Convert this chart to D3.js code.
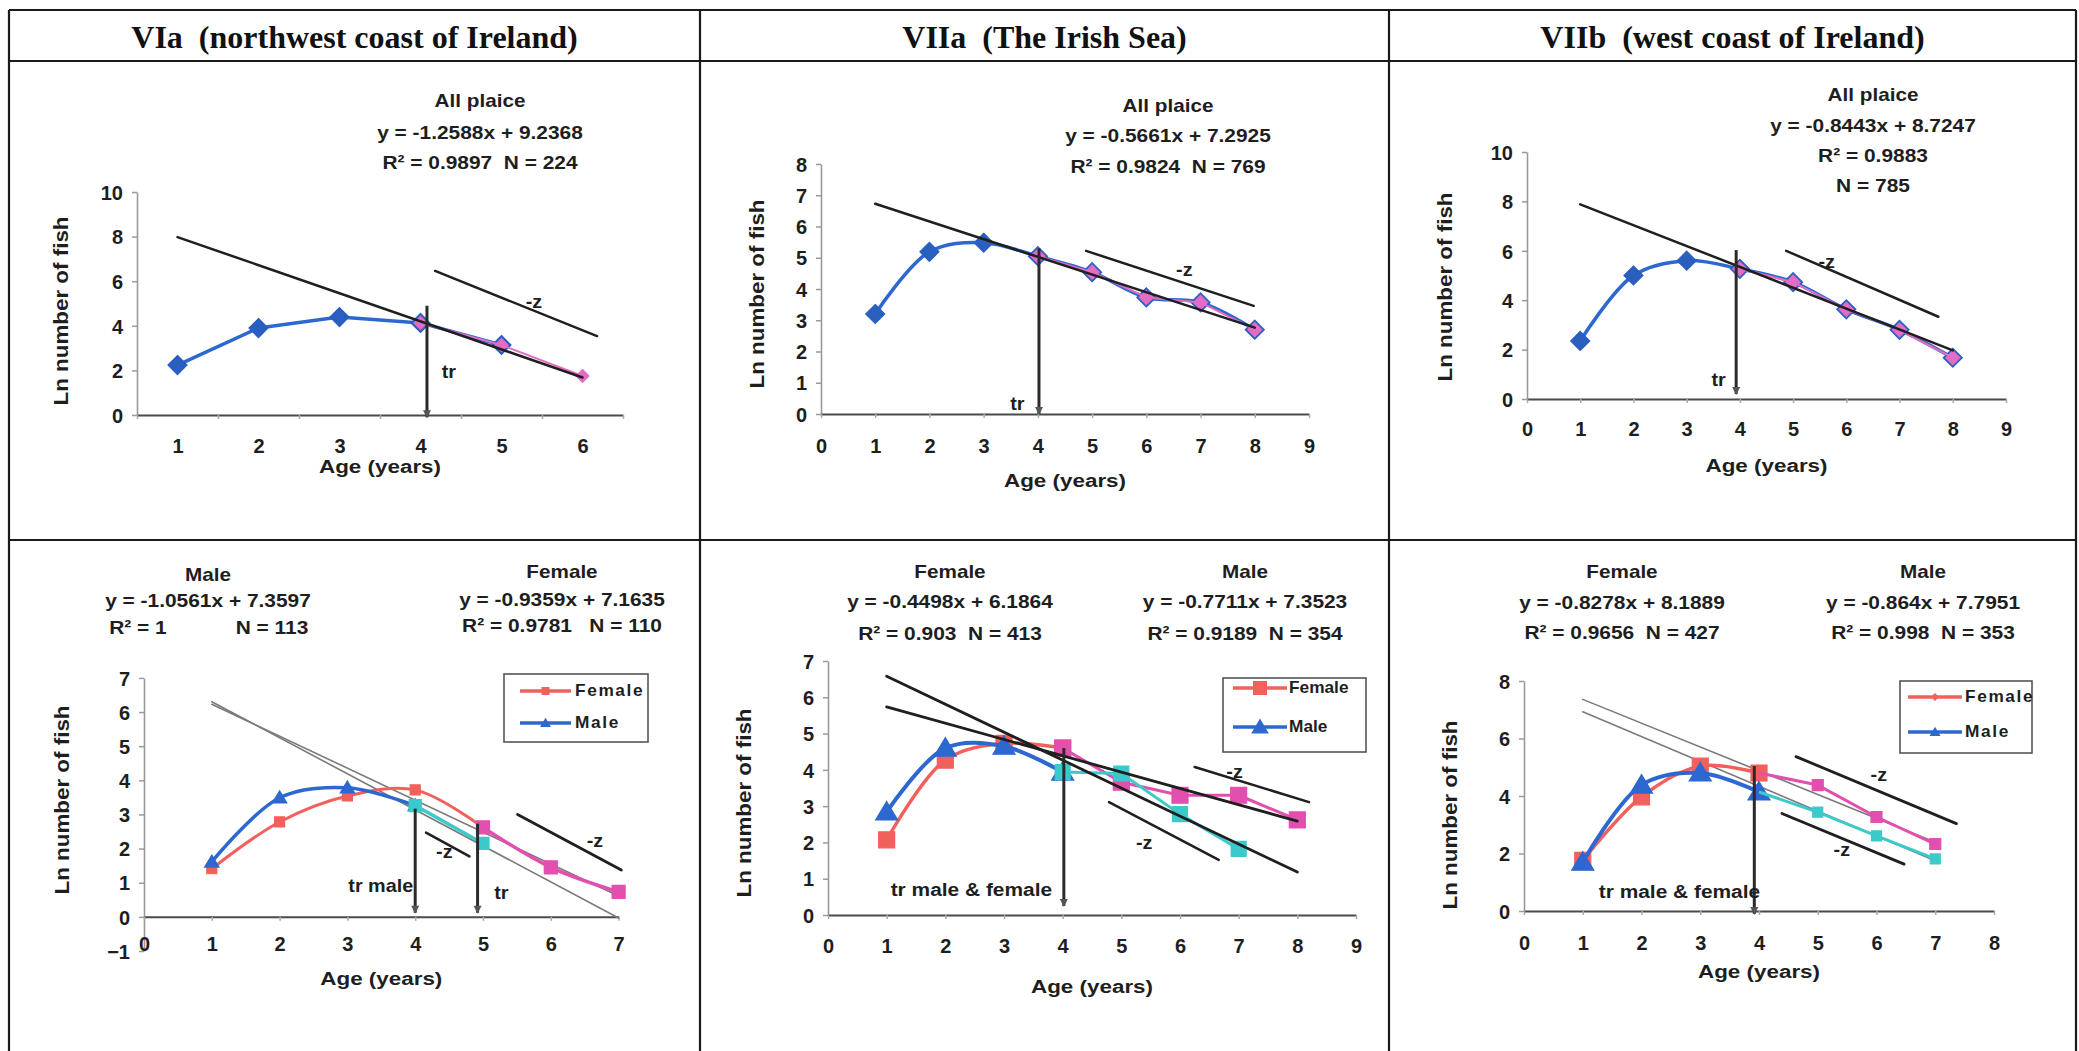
<!DOCTYPE html>
<html><head><meta charset="utf-8">
<script src="https://cdn.jsdelivr.net/npm/d3@7"></script>
<style>
body{margin:0;background:#fff}
svg{display:block}
text{font-family:"Liberation Sans",Arial,sans-serif;font-weight:bold;fill:#1e1e1e;white-space:pre}
</style>
</head><body><svg id="c" width="2079" height="1051"></svg>
<script>
// ---------------- DATA ----------------
const panelTitles = ["VIa  (northwest coast of Ireland)", "VIIa  (The Irish Sea)", "VIIb  (west coast of Ireland)"];
const yAxisTitle = "Ln number of fish";
const xAxisTitle = "Age (years)";
const legendNames = ["Female", "Male"];

// Panel 1 : VIa all plaice
const p1XTicks = [1, 2, 3, 4, 5, 6];
const p1YTicks = [0, 2, 4, 6, 8, 10];
const p1AllAges = [1, 2, 3, 4, 5];
const p1AllValues = [2.24, 3.9, 4.39, 4.13, 3.14];
const p1DescAges = [4, 5, 6];
const p1DescValues = [4.13, 3.14, 1.75];
const p1Fit = [-1.2588, 9.2368];
const p1FitAges = [1, 6];
const p1Z = [[4.18, 6.46], [6.18, 3.54]];
const p1Text = ["All plaice", "y = -1.2588x + 9.2368", "R² = 0.9897  N = 224"];

// Panel 2 : VIIa all plaice
const p2XTicks = [0, 1, 2, 3, 4, 5, 6, 7, 8, 9];
const p2YTicks = [0, 1, 2, 3, 4, 5, 6, 7, 8];
const p2AllAges = [1, 2, 3, 4, 5, 6, 7, 8];
const p2AllValues = [3.2, 5.19, 5.48, 5.05, 4.54, 3.73, 3.57, 2.7];
const p2DescAges = [4, 5, 6, 7, 8];
const p2DescValues = [5.05, 4.54, 3.73, 3.57, 2.7];
const p2Fit = [-0.5661, 7.2925];
const p2FitAges = [1, 8];
const p2Z = [[4.89, 5.22], [7.98, 3.46]];
const p2Text = ["All plaice", "y = -0.5661x + 7.2925", "R² = 0.9824  N = 769"];

// Panel 3 : VIIb all plaice
const p3XTicks = [0, 1, 2, 3, 4, 5, 6, 7, 8, 9];
const p3YTicks = [0, 2, 4, 6, 8, 10];
const p3AllAges = [1, 2, 3, 4, 5, 6, 7, 8];
const p3AllValues = [2.35, 5.0, 5.6, 5.27, 4.73, 3.63, 2.8, 1.67];
const p3DescAges = [4, 5, 6, 7, 8];
const p3DescValues = [5.27, 4.73, 3.63, 2.8, 1.67];
const p3Fit = [-0.8443, 8.7247];
const p3FitAges = [1, 8];
const p3Z = [[4.87, 6.0], [7.73, 3.33]];
const p3Text = ["All plaice", "y = -0.8443x + 8.7247", "R² = 0.9883", "N = 785"];

// Panel 4 : VIa by sex
const p4XTicks = [0, 1, 2, 3, 4, 5, 6, 7];
const p4YTicks = [-1, 0, 1, 2, 3, 4, 5, 6, 7];
const p4FemAges = [1, 2, 3, 4, 5];
const p4FemValues = [1.41, 2.78, 3.54, 3.72, 2.62];
const p4FemDescAges = [5, 6, 7];
const p4FemDescValues = [2.62, 1.45, 0.73];
const p4MaleAges = [1, 2, 3, 4];
const p4MaleValues = [1.61, 3.49, 3.78, 3.26];
const p4MaleDescAges = [4, 5];
const p4MaleDescValues = [3.26, 2.15];
const p4FitMale = [-1.0561, 7.3597];
const p4FitFemale = [-0.9359, 7.1635];
const p4FitAges = [1, 7];
const p4ZShort = [[4.16, 2.47], [4.8, 1.77]];
const p4ZLong = [[5.51, 3.0], [7.04, 1.37]];
const p4TextMale = ["Male", "y = -1.0561x + 7.3597", "R² = 1", "N = 113"];
const p4TextFemale = ["Female", "y = -0.9359x + 7.1635", "R² = 0.9781   N = 110"];

// Panel 5 : VIIa by sex
const p5XTicks = [0, 1, 2, 3, 4, 5, 6, 7, 8, 9];
const p5YTicks = [0, 1, 2, 3, 4, 5, 6, 7];
const p5FemAges = [1, 2, 3, 4];
const p5FemValues = [2.07, 4.27, 4.73, 4.6];
const p5FemDescAges = [4, 5, 6, 7, 8];
const p5FemDescValues = [4.6, 3.66, 3.3, 3.3, 2.62];
const p5MaleAges = [1, 2, 3, 4];
const p5MaleValues = [2.84, 4.6, 4.65, 3.94];
const p5MaleDescAges = [4, 5, 6, 7];
const p5MaleDescValues = [3.94, 3.9, 2.78, 1.82];
const p5FitFemale = [-0.4498, 6.1864];
const p5FitMale = [-0.7711, 7.3523];
const p5FitAges = [1, 8];
const p5ZUpper = [[6.25, 4.08], [8.2, 3.11]];
const p5ZLower = [[4.79, 3.11], [6.66, 1.52]];
const p5TextFemale = ["Female", "y = -0.4498x + 6.1864", "R² = 0.903  N = 413"];
const p5TextMale = ["Male", "y = -0.7711x + 7.3523", "R² = 0.9189  N = 354"];

// Panel 6 : VIIb by sex
const p6XTicks = [0, 1, 2, 3, 4, 5, 6, 7, 8];
const p6YTicks = [0, 2, 4, 6, 8];
const p6FemAges = [1, 2, 3, 4];
const p6FemValues = [1.76, 3.97, 5.04, 4.8];
const p6FemDescAges = [4, 5, 6, 7];
const p6FemDescValues = [4.8, 4.38, 3.27, 2.33];
const p6MaleAges = [1, 2, 3, 4];
const p6MaleValues = [1.7, 4.38, 4.8, 4.14];
const p6MaleDescAges = [4, 5, 6, 7];
const p6MaleDescValues = [4.14, 3.44, 2.61, 1.81];
const p6FitFemale = [-0.8278, 8.1889];
const p6FitMale = [-0.864, 7.7951];
const p6FitAges = [1, 7];
const p6ZUpper = [[4.63, 5.37], [7.36, 3.04]];
const p6ZLower = [[4.39, 3.39], [6.47, 1.63]];
const p6TextFemale = ["Female", "y = -0.8278x + 8.1889", "R² = 0.9656  N = 427"];
const p6TextMale = ["Male", "y = -0.864x + 7.7951", "R² = 0.998  N = 353"];

// ---------------- STYLE ----------------
const C = {blue:"#2c68cf", blueMk:"#2a5fc0", red:"#f2605c", pink:"#e24faf", pinkTop:"#e46cc4", cyan:"#3cc9c9", black:"#1f1f1f", gray:"#7a7a7a"};
const TICK_FS = 20;

// ---------------- DRAW ----------------
const W = 2079, H = 1051;
const svg = d3.select("#c");
svg.append("rect").attr("width", W).attr("height", H).attr("fill", "#fff");

function T(g, x, y, str, size, sx = 1, anchor = "middle", rot = 0) {
  return g.append("text").attr("text-anchor", anchor).attr("dominant-baseline", "central")
    .attr("transform", `translate(${x},${y}) rotate(${rot}) scale(${sx},1)`)
    .style("font-size", size + "px").text(str);
}

// table grid
const colX = [9, 700, 1389, 2076];
const rowY = [10, 61, 540];
const grid = svg.append("g").attr("stroke", "#1a1a1a").attr("stroke-width", 2.2);
colX.forEach(x => grid.append("line").attr("x1", x).attr("x2", x).attr("y1", rowY[0]).attr("y2", H));
rowY.forEach(y => grid.append("line").attr("x1", colX[0]).attr("x2", colX[3]).attr("y1", y).attr("y2", y));
panelTitles.forEach((t, i) => {
  T(svg, (colX[i] + colX[i + 1]) / 2, 37, t, 32).style("font-family", "'Liberation Serif','Times New Roman',serif").style("fill", "#111");
});

function makePanel(s) {
  const g = svg.append("g");
  const x = d3.scaleLinear().domain(s.xd).range(s.xr);
  const y = d3.scaleLinear().domain(s.yd).range(s.yr);
  // y axis
  const ga = g.append("g").attr("transform", `translate(${x(s.yAt)},0)`)
    .call(d3.axisLeft(y).tickValues(s.yTicks).tickFormat(d3.format("d")).tickSize(5).tickSizeOuter(0).tickPadding(9));
  ga.attr("font-family", null).attr("font-size", null);
  ga.select(".domain").attr("stroke", "#9a9a9a").attr("stroke-width", 1.6);
  ga.selectAll(".tick line").attr("stroke", "#9a9a9a").attr("stroke-width", 1.5);
  ga.selectAll("text").style("font-size", TICK_FS + "px").attr("dy", "0.36em");
  // x axis line & marks
  const gx = g.append("g").attr("transform", `translate(0,${y(0)})`)
    .call(d3.axisBottom(x).tickValues(s.xMarks).tickFormat("").tickSize(4).tickSizeOuter(0));
  gx.select(".domain").attr("stroke", "#4a4a4a").attr("stroke-width", 2);
  gx.selectAll(".tick line").attr("stroke", "#aaa").attr("stroke-width", 1.5);
  const gl = g.append("g").attr("transform", `translate(0,${s.xLabY})`)
    .call(d3.axisBottom(x).tickValues(s.xTicks).tickFormat(d3.format("d")).tickSize(0).tickPadding(0));
  gl.attr("font-family", null).attr("font-size", null);
  gl.select(".domain").remove();
  gl.selectAll("text").style("font-size", TICK_FS + "px").attr("y", 0).attr("dy", "0.36em");
  // titles
  T(g, (s.xr[0] + s.xr[1]) / 2, s.xTitleY, xAxisTitle, 19, 1.18);
  T(g, s.yTitle[0], s.yTitle[1], yAxisTitle, 20, 1.12, "middle", -90);
  return {g, x, y};
}

function line(g, x, y, ages, vals, color, w, curve) {
  g.append("path").datum(ages.map((a, i) => [a, vals[i]]))
    .attr("d", d3.line().x(d => x(d[0])).y(d => y(d[1])).curve(curve || d3.curveLinear))
    .attr("fill", "none").attr("stroke", color).attr("stroke-width", w).attr("stroke-linejoin", "round");
}
function symPath(type, cx, cy, r) {
  if (type === "diamond") return `M${cx},${cy - r}L${cx + r},${cy}L${cx},${cy + r}L${cx - r},${cy}Z`;
  if (type === "square") return `M${cx - r},${cy - r}h${2 * r}v${2 * r}h${-2 * r}Z`;
  return `M${cx},${cy - r * 1.05}L${cx + r * 1.1},${cy + r * 0.8}L${cx - r * 1.1},${cy + r * 0.8}Z`;
}
function marks(g, x, y, ages, vals, type, r, fill, stroke) {
  ages.forEach((a, i) => {
    g.append("path").attr("d", symPath(type, x(a), y(vals[i]), r)).attr("fill", fill)
      .attr("stroke", stroke || fill).attr("stroke-width", 1.2);
  });
}
function seg(g, x, y, pts, color, w) {
  g.append("line").attr("x1", x(pts[0][0])).attr("y1", y(pts[0][1])).attr("x2", x(pts[1][0])).attr("y2", y(pts[1][1]))
    .attr("stroke", color).attr("stroke-width", w).attr("stroke-linecap", "round");
}
function fit(g, x, y, coef, ages, color, w) {
  seg(g, x, y, ages.map(a => [a, coef[0] * a + coef[1]]), color, w);
}
function trLine(g, x, y, xv, top, bottom) {
  const X = x(xv);
  g.append("line").attr("x1", X).attr("x2", X).attr("y1", y(top)).attr("y2", y(bottom))
    .attr("stroke", "#2a2a2a").attr("stroke-width", 3);
  const b = y(bottom);
  g.append("path").attr("d", `M${X - 4},${b - 7}L${X + 4},${b - 7}L${X},${b + 1}Z`).attr("fill", "#555");
}
function legend(g, box, rows, lineX, textX, markers, labelSpacing) {
  g.append("rect").attr("x", box[0]).attr("y", box[1]).attr("width", box[2] - box[0]).attr("height", box[3] - box[1])
    .attr("fill", "#fff").attr("stroke", "#555").attr("stroke-width", 1.6);
  legendNames.forEach((n, i) => {
    const col = i === 0 ? C.red : C.blue;
    g.append("line").attr("x1", lineX[0]).attr("x2", lineX[1]).attr("y1", rows[i]).attr("y2", rows[i])
      .attr("stroke", col).attr("stroke-width", 3.5);
    const mx = (lineX[0] + lineX[1]) / 2;
    g.append("path").attr("d", symPath(markers[i][0], mx, rows[i], markers[i][1])).attr("fill", col);
    T(g, textX, rows[i], n, 16, 1.08, "start").style("letter-spacing", labelSpacing + "px");
  });
}

// ---- Panel 1
{
  const {g, x, y} = makePanel({xd:[0.5, 6.5], xr:[137, 623], yd:[0, 10], yr:[415, 192], yAt:0.5, yTicks:p1YTicks,
    xTicks:p1XTicks, xMarks:d3.range(0.5, 6.6, 1), xLabY:446, xTitleY:466, yTitle:[61, 311]});
  line(g, x, y, p1AllAges, p1AllValues, C.blue, 3.5);
  marks(g, x, y, p1AllAges, p1AllValues, "diamond", 9.5, C.blueMk);
  line(g, x, y, p1DescAges, p1DescValues, C.pinkTop, 2);
  marks(g, x, y, p1DescAges, p1DescValues, "diamond", 6.5, C.pinkTop);
  fit(g, x, y, p1Fit, p1FitAges, C.black, 2.5);
  seg(g, x, y, p1Z, C.black, 2.5);
  T(g, x(5.4), y(5.07), "-z", 18, 1.1);
  trLine(g, x, y, 4.08, 4.9, -0.1);
  T(g, x(4.35), y(1.93), "tr", 18, 1.1);
  [101, 132, 162].forEach((yy, i) => T(g, 480, yy, p1Text[i], i ? 19 : 18, i ? 1.1 : 1.15));
}
// ---- Panel 2
{
  const {g, x, y} = makePanel({xd:[0, 9], xr:[821, 1309], yd:[0, 8], yr:[414, 164], yAt:0, yTicks:p2YTicks,
    xTicks:p2XTicks, xMarks:d3.range(0, 10), xLabY:446, xTitleY:480, yTitle:[757, 294]});
  line(g, x, y, p2AllAges, p2AllValues, C.blue, 3.5, d3.curveCatmullRom);
  marks(g, x, y, p2AllAges, p2AllValues, "diamond", 9.5, C.blueMk);
  line(g, x, y, p2DescAges, p2DescValues, C.pinkTop, 2);
  marks(g, x, y, p2DescAges, p2DescValues, "diamond", 7, C.pinkTop);
  fit(g, x, y, p2Fit, p2FitAges, C.black, 2.5);
  seg(g, x, y, p2Z, C.black, 2.5);
  T(g, x(6.7), y(4.6), "-z", 18, 1.1);
  trLine(g, x, y, 4.02, 5.3, 0);
  T(g, x(3.62), y(0.32), "tr", 18, 1.1);
  [106, 135, 166].forEach((yy, i) => T(g, 1168, yy, p2Text[i], i ? 19 : 18, i ? 1.1 : 1.15));
}
// ---- Panel 3
{
  const {g, x, y} = makePanel({xd:[0, 9], xr:[1527, 2006], yd:[0, 10], yr:[399, 152], yAt:0, yTicks:p3YTicks,
    xTicks:p3XTicks, xMarks:d3.range(0, 10), xLabY:429, xTitleY:465, yTitle:[1445, 287]});
  line(g, x, y, p3AllAges, p3AllValues, C.blue, 3.5, d3.curveCatmullRom);
  marks(g, x, y, p3AllAges, p3AllValues, "diamond", 9.5, C.blueMk);
  line(g, x, y, p3DescAges, p3DescValues, C.pinkTop, 2);
  marks(g, x, y, p3DescAges, p3DescValues, "diamond", 7, C.pinkTop);
  fit(g, x, y, p3Fit, p3FitAges, C.black, 2.5);
  seg(g, x, y, p3Z, C.black, 2.5);
  T(g, x(5.63), y(5.55), "-z", 18, 1.1);
  trLine(g, x, y, 3.93, 6.03, 0.2);
  T(g, x(3.6), y(0.77), "tr", 18, 1.1);
  [95, 125, 155, 185].forEach((yy, i) => T(g, 1873, yy, p3Text[i], i ? 19 : 18, i ? 1.1 : 1.15));
}
// ---- Panel 4
{
  const {g, x, y} = makePanel({xd:[0, 7], xr:[144, 618.6], yd:[-1, 7], yr:[951, 677.9], yAt:0, yTicks:p4YTicks,
    xTicks:p4XTicks, xMarks:d3.range(0, 8), xLabY:944, xTitleY:978, yTitle:[62, 800]});
  fit(g, x, y, p4FitMale, p4FitAges, C.gray, 1.6);
  fit(g, x, y, p4FitFemale, p4FitAges, C.gray, 1.6);
  line(g, x, y, p4FemAges, p4FemValues, C.red, 3, d3.curveCatmullRom);
  marks(g, x, y, p4FemAges, p4FemValues, "square", 5, C.red);
  line(g, x, y, p4MaleAges, p4MaleValues, C.blue, 3.5, d3.curveCatmullRom);
  marks(g, x, y, p4MaleAges, p4MaleValues, "triangle", 6.5, C.blue);
  line(g, x, y, p4FemDescAges, p4FemDescValues, C.pink, 3.5, d3.curveCatmullRom);
  marks(g, x, y, p4FemDescAges, p4FemDescValues, "square", 6.5, C.pink);
  line(g, x, y, p4MaleDescAges, p4MaleDescValues, C.cyan, 3.5);
  marks(g, x, y, p4MaleDescAges, p4MaleDescValues, "square", 6, C.cyan);
  seg(g, x, y, p4ZShort, C.black, 2.5);
  seg(g, x, y, p4ZLong, C.black, 2.8);
  T(g, x(4.43), y(1.9), "-z", 18, 1.1);
  T(g, x(6.65), y(2.24), "-z", 18, 1.1);
  trLine(g, x, y, 4.0, 3.17, 0.12);
  trLine(g, x, y, 4.92, 2.73, 0.12);
  T(g, x(4.0) - 2, y(0.9), "tr male", 18, 1.1, "end");
  T(g, x(5.27), y(0.7), "tr", 18, 1.1);
  legend(g, [504, 674, 648, 742], [691, 723], [520, 571], 575, [["square", 4], ["triangle", 5]], 1.5);
  T(g, 208, 575, p4TextMale[0], 18, 1.15);
  T(g, 208, 600, p4TextMale[1], 19, 1.1);
  T(g, 138, 627, p4TextMale[2], 19, 1.1);
  T(g, 272, 627, p4TextMale[3], 19, 1.1);
  T(g, 562, 572, p4TextFemale[0], 18, 1.15);
  T(g, 562, 599, p4TextFemale[1], 19, 1.1);
  T(g, 562, 625, p4TextFemale[2], 19, 1.1);
}
// ---- Panel 5
{
  const {g, x, y} = makePanel({xd:[0, 9], xr:[828, 1356], yd:[0, 7], yr:[915, 661], yAt:0, yTicks:p5YTicks,
    xTicks:p5XTicks, xMarks:d3.range(0, 10), xLabY:946, xTitleY:986, yTitle:[744, 803]});
  line(g, x, y, p5FemAges, p5FemValues, C.red, 3.5, d3.curveCatmullRom);
  marks(g, x, y, p5FemAges, p5FemValues, "square", 8, C.red);
  line(g, x, y, p5MaleAges, p5MaleValues, C.blue, 4, d3.curveCatmullRom);
  marks(g, x, y, p5MaleAges, p5MaleValues, "triangle", 10, C.blue);
  line(g, x, y, p5FemDescAges, p5FemDescValues, C.pink, 3);
  marks(g, x, y, p5FemDescAges, p5FemDescValues, "square", 8, C.pink);
  line(g, x, y, p5MaleDescAges, p5MaleDescValues, C.cyan, 3);
  marks(g, x, y, p5MaleDescAges, p5MaleDescValues, "square", 7.5, C.cyan);
  fit(g, x, y, p5FitFemale, p5FitAges, C.black, 2.8);
  fit(g, x, y, p5FitMale, p5FitAges, C.black, 2.8);
  seg(g, x, y, p5ZUpper, C.black, 2.5);
  seg(g, x, y, p5ZLower, C.black, 2.5);
  T(g, x(6.93), y(3.94), "-z", 18, 1.1);
  T(g, x(5.39), y(2.0), "-z", 18, 1.1);
  trLine(g, x, y, 4.02, 4.6, 0.25);
  T(g, x(3.82), y(0.72), "tr male & female", 19, 1.1, "end");
  legend(g, [1223, 678, 1366, 752], [688, 727], [1233, 1287], 1289, [["square", 7], ["triangle", 8]], 0);
  [572, 601, 633].forEach((yy, i) => T(g, 950, yy, p5TextFemale[i], i ? 19 : 18, i ? 1.1 : 1.15));
  [572, 601, 633].forEach((yy, i) => T(g, 1245, yy, p5TextMale[i], i ? 19 : 18, i ? 1.1 : 1.15));
}
// ---- Panel 6
{
  const {g, x, y} = makePanel({xd:[0, 8], xr:[1524, 1994], yd:[0, 8], yr:[911, 681], yAt:0, yTicks:p6YTicks,
    xTicks:p6XTicks, xMarks:d3.range(0, 9), xLabY:943, xTitleY:971, yTitle:[1450, 815]});
  fit(g, x, y, p6FitFemale, p6FitAges, C.gray, 1.6);
  fit(g, x, y, p6FitMale, p6FitAges, C.gray, 1.6);
  line(g, x, y, p6FemAges, p6FemValues, C.red, 3.5, d3.curveCatmullRom);
  marks(g, x, y, p6FemAges, p6FemValues, "square", 8, C.red);
  line(g, x, y, p6MaleAges, p6MaleValues, C.blue, 4, d3.curveCatmullRom);
  marks(g, x, y, p6MaleAges, p6MaleValues, "triangle", 10, C.blue);
  line(g, x, y, p6FemDescAges, p6FemDescValues, C.pink, 3);
  marks(g, x, y, p6FemDescAges.slice(1), p6FemDescValues.slice(1), "square", 5.5, C.pink);
  line(g, x, y, p6MaleDescAges, p6MaleDescValues, C.cyan, 3);
  marks(g, x, y, p6MaleDescAges.slice(1), p6MaleDescValues.slice(1), "square", 5, C.cyan);
  seg(g, x, y, p6ZUpper, C.black, 2.8);
  seg(g, x, y, p6ZLower, C.black, 2.8);
  T(g, x(6.04), y(4.73), "-z", 18, 1.1);
  T(g, x(5.41), y(2.12), "-z", 18, 1.1);
  trLine(g, x, y, 3.92, 5.04, -0.1);
  T(g, x(4.02), y(0.7), "tr male & female", 19, 1.1, "end");
  legend(g, [1900, 681, 2032, 753], [697, 732], [1908, 1962], 1965, [["diamond", 4], ["triangle", 5]], 1.5);
  [572, 602, 632].forEach((yy, i) => T(g, 1622, yy, p6TextFemale[i], i ? 19 : 18, i ? 1.1 : 1.15));
  [572, 602, 632].forEach((yy, i) => T(g, 1923, yy, p6TextMale[i], i ? 19 : 18, i ? 1.1 : 1.15));
}
</script>
</body></html>
